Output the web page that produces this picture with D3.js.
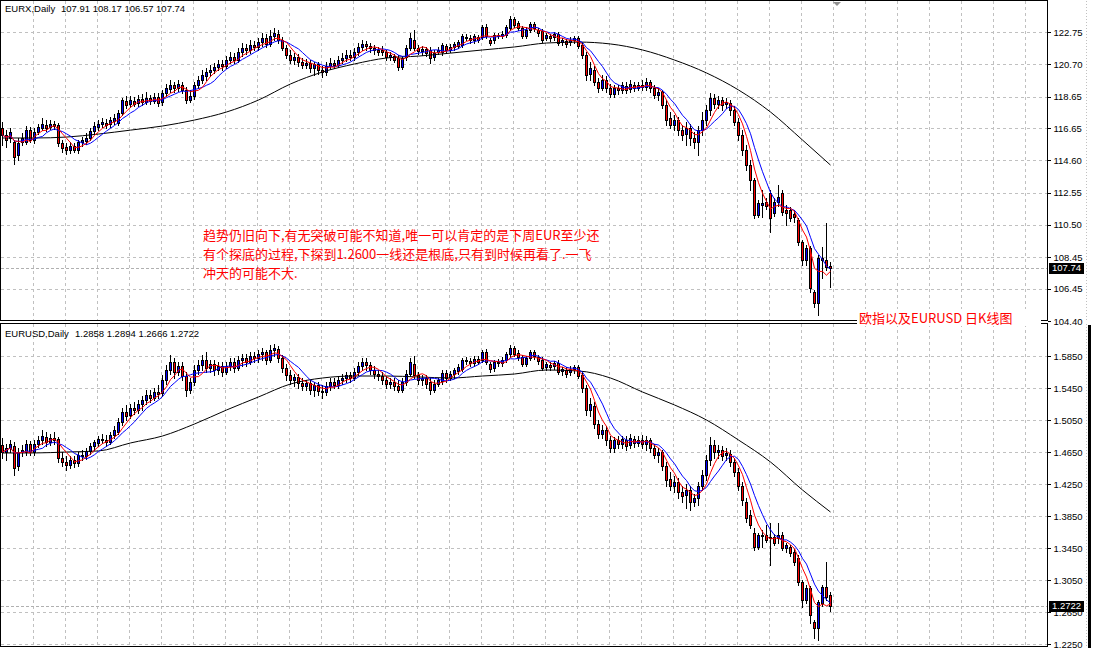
<!DOCTYPE html>
<html><head><meta charset="utf-8">
<script src="https://cdn.jsdelivr.net/npm/d3@7"></script>
<style>body{margin:0;background:#fff}svg{display:block}</style>
</head><body><svg id="c" width="1093" height="648"></svg>
<script>
// ---------- EURX daily (top window) ----------
const eurxOpen=[116.65,116.21,116.02,115.76,114.94,115.76,115.76,116.52,
115.89,116.40,116.65,116.84,116.71,116.91,116.84,115.70,
115.44,115.25,115.51,115.25,115.76,115.83,116.02,116.46,
116.71,116.91,116.97,116.91,117.10,116.97,117.60,118.37,
118.18,118.37,118.24,118.49,118.30,118.56,118.37,118.62,
118.30,118.87,119.13,119.38,119.19,119.38,119.07,118.43,
118.68,119.38,119.70,119.95,120.21,120.34,120.53,120.72,
120.59,120.97,121.16,120.97,121.48,121.73,121.61,121.92,
121.80,122.11,122.37,121.99,122.49,122.62,122.24,121.73,
121.29,120.97,121.16,120.84,120.65,120.78,120.46,120.72,
120.34,120.21,120.59,120.78,120.65,120.97,121.10,121.29,
121.16,121.48,121.80,121.99,121.86,121.73,121.61,121.61,
121.48,121.16,121.22,121.10,120.53,121.16,121.73,122.24,
121.73,121.54,121.67,121.61,121.16,121.48,121.48,121.86,
121.61,121.80,121.86,121.92,122.43,122.37,122.24,122.43,
122.43,123.07,122.24,122.24,122.56,122.49,122.56,123.00,
123.57,123.32,123.00,122.49,122.88,123.26,122.88,122.81,
122.37,122.49,122.43,122.62,122.11,122.18,122.11,122.24,
122.37,121.92,121.29,120.08,120.34,119.57,119.19,119.70,
119.19,118.81,119.19,119.07,119.32,119.13,119.38,119.19,
119.38,119.26,119.57,119.19,118.75,118.94,118.11,117.29,
116.84,117.16,116.52,116.27,116.65,116.02,115.76,116.52,
117.16,117.80,118.56,118.18,118.43,118.18,118.24,117.80,
117.03,116.21,115.25,114.30,113.35,111.13,111.76,111.95,
112.52,111.26,111.95,112.52,111.45,111.45,111.19,110.81,
109.41,108.27,109.03,106.24,105.54,108.40,108.27,107.91];
const eurxHigh=[117.03,116.52,116.65,115.89,116.02,116.33,116.78,116.71,
116.65,116.91,117.29,117.16,117.16,117.10,116.97,115.89,
115.70,115.76,115.70,115.89,116.08,116.33,116.65,117.03,
117.16,117.29,117.22,117.35,117.54,117.80,118.56,118.68,
118.68,118.62,118.75,118.81,118.94,118.75,118.87,118.87,
119.07,119.45,119.70,119.57,119.70,119.57,119.26,119.07,
119.57,119.95,120.34,120.46,120.65,120.78,120.97,120.97,
121.22,121.48,121.41,121.73,122.05,121.99,122.24,122.18,
122.37,122.68,122.62,122.88,123.00,122.88,122.43,121.92,
121.61,121.41,121.35,121.10,121.03,120.97,120.84,120.84,
120.59,120.84,121.10,120.97,121.22,121.41,121.61,121.61,
121.73,122.05,122.24,122.18,122.05,121.92,121.80,121.86,
121.61,121.48,121.35,121.29,121.22,121.92,122.68,122.88,
121.92,121.86,121.80,121.80,121.61,121.80,122.05,121.99,
121.99,122.11,122.24,122.62,122.62,122.56,122.62,122.56,
123.19,123.26,122.37,122.68,122.68,122.81,123.19,123.76,
123.70,123.45,123.13,123.07,123.38,123.38,123.00,122.94,
122.68,122.62,122.75,122.75,122.37,122.30,122.43,122.49,
122.49,122.11,121.48,120.84,120.59,119.83,120.02,119.95,
119.45,119.38,119.38,119.57,119.57,119.70,119.57,119.57,
119.70,119.83,119.70,119.38,119.19,119.07,118.43,117.67,
117.48,117.35,116.84,117.03,116.91,116.40,116.78,117.67,
118.11,118.87,118.81,118.68,118.62,118.56,118.43,118.05,
117.29,116.52,115.57,114.62,113.48,112.08,112.72,112.21,
112.72,112.21,113.03,112.72,111.76,111.64,111.45,110.94,
109.54,109.22,109.16,106.37,108.59,109.10,110.62,108.17];
const eurxLow=[115.57,115.44,115.76,114.37,114.62,115.57,115.63,115.76,
115.70,116.27,116.52,116.46,116.59,116.59,115.51,115.13,
115.00,115.06,115.13,115.06,115.51,115.63,115.89,116.33,
116.52,116.71,116.65,116.71,116.91,116.84,117.48,117.92,
117.99,118.05,118.05,118.11,118.18,118.18,118.24,118.05,
118.11,118.68,118.94,118.94,119.00,118.87,118.24,118.30,
118.49,119.19,119.51,119.70,119.95,120.15,120.34,120.34,
120.46,120.78,120.78,120.84,121.22,121.35,121.41,121.61,
121.61,121.86,121.80,121.86,122.24,122.05,121.61,121.10,
120.78,120.72,120.59,120.46,120.46,120.21,120.02,120.08,
119.89,120.02,120.40,120.46,120.53,120.78,120.91,120.97,
120.97,121.29,121.61,121.61,121.48,121.35,121.29,121.29,
120.97,120.97,120.84,120.34,120.40,120.97,121.61,121.61,
121.35,121.29,121.22,120.78,120.97,121.35,121.29,121.41,
121.48,121.61,121.73,121.80,122.24,122.05,122.05,122.11,
122.30,122.37,121.92,122.05,122.37,122.37,122.43,122.88,
123.07,122.88,122.37,122.37,122.75,122.81,122.49,122.11,
122.24,122.18,122.24,121.92,121.92,121.80,121.92,122.05,
121.73,121.10,119.70,119.70,119.38,118.94,119.07,118.94,
118.62,118.62,118.81,118.87,118.87,118.94,119.00,119.07,
119.07,119.07,118.94,118.56,118.43,117.92,116.84,116.65,
116.52,116.21,115.89,115.57,115.57,115.38,114.94,116.21,
116.84,117.48,117.92,117.92,117.80,117.92,117.48,116.84,
115.89,114.94,113.99,112.72,110.94,111.00,111.00,111.51,
110.05,111.06,111.70,111.13,110.49,110.75,110.68,109.22,
107.95,107.95,106.24,105.29,104.78,107.13,107.64,106.57];
const eurxClose=[116.21,115.89,116.40,114.81,115.70,116.02,116.52,115.89,
116.40,116.71,116.91,116.65,116.91,116.78,115.70,115.38,
115.25,115.51,115.25,115.76,115.89,116.02,116.46,116.78,
116.91,117.03,116.84,117.16,117.29,117.60,118.43,118.11,
118.43,118.18,118.49,118.30,118.56,118.37,118.62,118.24,
118.87,119.19,119.38,119.19,119.45,119.07,118.43,118.68,
119.38,119.70,120.02,120.21,120.34,120.53,120.72,120.59,
120.97,121.16,120.97,121.48,121.73,121.61,121.92,121.80,
122.11,122.37,121.99,122.49,122.68,122.24,121.73,121.29,
120.97,121.16,120.84,120.65,120.78,120.46,120.72,120.34,
120.21,120.59,120.78,120.65,120.97,121.10,121.29,121.16,
121.48,121.80,121.99,121.86,121.73,121.61,121.48,121.48,
121.16,121.29,120.97,120.53,121.10,121.73,122.37,121.73,
121.54,121.67,121.41,121.10,121.41,121.61,121.92,121.61,
121.80,121.99,122.11,122.49,122.37,122.24,122.49,122.24,
123.07,122.49,122.05,122.56,122.49,122.62,123.07,123.57,
123.19,123.00,122.49,122.88,123.26,123.00,122.68,122.24,
122.56,122.37,122.62,122.05,122.24,121.99,122.24,122.37,
121.86,121.29,120.02,120.46,119.57,119.19,119.70,119.19,
118.81,119.19,119.07,119.38,119.07,119.45,119.19,119.38,
119.26,119.57,119.19,118.75,118.94,118.11,117.16,116.84,
117.16,116.52,116.21,116.65,116.02,115.76,116.52,117.16,
117.80,118.56,118.18,118.43,118.11,118.30,117.80,117.03,
116.21,115.25,114.30,113.35,111.13,111.89,111.89,111.70,
110.94,111.95,112.27,111.32,111.26,110.94,111.00,109.41,
108.27,109.03,106.50,105.54,108.40,108.27,107.82,107.74];

// ---------- EURUSD daily (bottom window) ----------
const usdOpen=[1.4738,1.4650,1.4700,1.4725,1.4475,1.4650,1.4650,1.4750,
1.4650,1.4750,1.4800,1.4838,1.4775,1.4825,1.4813,1.4575,
1.4525,1.4488,1.4550,1.4513,1.4613,1.4600,1.4663,1.4725,
1.4763,1.4813,1.4800,1.4775,1.4863,1.4900,1.5025,1.5150,
1.5113,1.5200,1.5175,1.5250,1.5300,1.5363,1.5325,1.5400,
1.5388,1.5550,1.5675,1.5775,1.5650,1.5725,1.5600,1.5425,
1.5525,1.5675,1.5738,1.5800,1.5700,1.5750,1.5675,1.5725,
1.5650,1.5725,1.5775,1.5700,1.5800,1.5825,1.5775,1.5850,
1.5825,1.5875,1.5900,1.5800,1.5925,1.5938,1.5825,1.5700,
1.5613,1.5550,1.5588,1.5513,1.5475,1.5513,1.5425,1.5488,
1.5413,1.5400,1.5475,1.5525,1.5488,1.5550,1.5575,1.5613,
1.5575,1.5650,1.5725,1.5775,1.5738,1.5675,1.5625,1.5600,
1.5550,1.5500,1.5525,1.5475,1.5425,1.5525,1.5625,1.5750,
1.5613,1.5550,1.5575,1.5525,1.5425,1.5500,1.5538,1.5638,
1.5575,1.5625,1.5663,1.5688,1.5800,1.5788,1.5763,1.5813,
1.5800,1.5900,1.5750,1.5700,1.5775,1.5763,1.5800,1.5875,
1.5950,1.5888,1.5838,1.5750,1.5825,1.5900,1.5838,1.5800,
1.5713,1.5738,1.5725,1.5763,1.5663,1.5675,1.5650,1.5688,
1.5713,1.5613,1.5450,1.5175,1.5225,1.5000,1.4875,1.4925,
1.4800,1.4700,1.4800,1.4750,1.4800,1.4738,1.4813,1.4763,
1.4800,1.4750,1.4800,1.4700,1.4613,1.4650,1.4475,1.4313,
1.4225,1.4275,1.4150,1.4113,1.4175,1.4025,1.4075,1.4225,
1.4363,1.4550,1.4738,1.4650,1.4675,1.4613,1.4625,1.4525,
1.4400,1.4225,1.4025,1.3863,1.3638,1.3463,1.3600,1.3613,
1.3588,1.3588,1.3575,1.3613,1.3450,1.3463,1.3400,1.3325,
1.3025,1.2800,1.2950,1.2525,1.2450,1.2763,1.2963,1.2858];
const usdHigh=[1.4825,1.4750,1.4800,1.4775,1.4700,1.4738,1.4800,1.4788,
1.4800,1.4850,1.4925,1.4900,1.4875,1.4900,1.4838,1.4650,
1.4600,1.4600,1.4600,1.4650,1.4675,1.4700,1.4763,1.4800,
1.4850,1.4875,1.4863,1.4900,1.4975,1.5075,1.5200,1.5238,
1.5250,1.5275,1.5300,1.5350,1.5425,1.5425,1.5450,1.5488,
1.5613,1.5738,1.5863,1.5825,1.5775,1.5775,1.5650,1.5575,
1.5738,1.5800,1.5863,1.5900,1.5800,1.5800,1.5775,1.5775,
1.5775,1.5825,1.5825,1.5850,1.5875,1.5875,1.5900,1.5900,
1.5925,1.5950,1.5925,1.5988,1.6000,1.5975,1.5863,1.5750,
1.5675,1.5625,1.5625,1.5575,1.5550,1.5550,1.5525,1.5525,
1.5488,1.5525,1.5575,1.5575,1.5600,1.5625,1.5650,1.5650,
1.5700,1.5775,1.5825,1.5825,1.5775,1.5725,1.5675,1.5650,
1.5600,1.5575,1.5575,1.5550,1.5575,1.5675,1.5825,1.5850,
1.5650,1.5613,1.5613,1.5575,1.5550,1.5575,1.5675,1.5675,
1.5663,1.5700,1.5750,1.5825,1.5838,1.5825,1.5850,1.5850,
1.5925,1.5938,1.5775,1.5800,1.5813,1.5838,1.5900,1.5988,
1.5975,1.5925,1.5863,1.5850,1.5925,1.5925,1.5863,1.5838,
1.5775,1.5775,1.5788,1.5800,1.5713,1.5713,1.5725,1.5738,
1.5738,1.5650,1.5488,1.5325,1.5275,1.5050,1.4988,1.4975,
1.4850,1.4838,1.4850,1.4850,1.4850,1.4875,1.4850,1.4850,
1.4863,1.4850,1.4825,1.4750,1.4700,1.4675,1.4525,1.4400,
1.4350,1.4325,1.4225,1.4250,1.4225,1.4125,1.4275,1.4425,
1.4613,1.4838,1.4800,1.4738,1.4725,1.4700,1.4675,1.4575,
1.4450,1.4275,1.4075,1.3925,1.3700,1.3638,1.3675,1.3738,
1.3763,1.3625,1.3763,1.3650,1.3513,1.3488,1.3438,1.3363,
1.3050,1.2988,1.2975,1.2550,1.2800,1.2988,1.3275,1.2894];
const usdLow=[1.4575,1.4550,1.4650,1.4363,1.4425,1.4600,1.4613,1.4613,
1.4613,1.4713,1.4750,1.4725,1.4738,1.4750,1.4525,1.4475,
1.4425,1.4450,1.4463,1.4475,1.4550,1.4563,1.4625,1.4675,
1.4725,1.4763,1.4725,1.4750,1.4825,1.4875,1.4988,1.5050,
1.5075,1.5125,1.5138,1.5175,1.5250,1.5275,1.5300,1.5325,
1.5350,1.5500,1.5625,1.5575,1.5613,1.5550,1.5350,1.5388,
1.5488,1.5625,1.5675,1.5650,1.5650,1.5613,1.5625,1.5600,
1.5625,1.5675,1.5650,1.5675,1.5725,1.5725,1.5750,1.5775,
1.5775,1.5800,1.5750,1.5775,1.5850,1.5775,1.5650,1.5550,
1.5500,1.5475,1.5450,1.5425,1.5425,1.5375,1.5350,1.5363,
1.5325,1.5363,1.5425,1.5450,1.5450,1.5500,1.5525,1.5525,
1.5550,1.5613,1.5675,1.5675,1.5625,1.5575,1.5550,1.5500,
1.5450,1.5450,1.5425,1.5400,1.5400,1.5488,1.5600,1.5575,
1.5500,1.5488,1.5450,1.5375,1.5400,1.5475,1.5500,1.5525,
1.5550,1.5575,1.5625,1.5663,1.5750,1.5725,1.5725,1.5750,
1.5775,1.5750,1.5650,1.5663,1.5725,1.5725,1.5775,1.5838,
1.5850,1.5800,1.5725,1.5725,1.5800,1.5813,1.5750,1.5675,
1.5675,1.5675,1.5688,1.5625,1.5613,1.5588,1.5613,1.5638,
1.5575,1.5400,1.5113,1.5100,1.4950,1.4825,1.4825,1.4738,
1.4650,1.4650,1.4700,1.4700,1.4675,1.4700,1.4713,1.4725,
1.4700,1.4675,1.4650,1.4575,1.4525,1.4425,1.4225,1.4175,
1.4150,1.4075,1.4025,1.3950,1.3925,1.3975,1.3988,1.4175,
1.4300,1.4488,1.4575,1.4575,1.4550,1.4550,1.4475,1.4350,
1.4175,1.3988,1.3775,1.3700,1.3425,1.3438,1.3463,1.3525,
1.3238,1.3488,1.3513,1.3425,1.3400,1.3350,1.3238,1.2988,
1.2713,1.2763,1.2513,1.2325,1.2300,1.2725,1.2800,1.2666];
const usdClose=[1.4650,1.4700,1.4750,1.4450,1.4650,1.4675,1.4750,1.4650,
1.4750,1.4800,1.4850,1.4775,1.4825,1.4800,1.4575,1.4525,
1.4488,1.4550,1.4513,1.4613,1.4600,1.4663,1.4725,1.4775,
1.4813,1.4800,1.4775,1.4863,1.4925,1.5025,1.5150,1.5100,
1.5200,1.5175,1.5250,1.5300,1.5363,1.5325,1.5400,1.5375,
1.5550,1.5675,1.5775,1.5650,1.5725,1.5600,1.5425,1.5525,
1.5675,1.5738,1.5800,1.5700,1.5750,1.5675,1.5725,1.5650,
1.5725,1.5775,1.5700,1.5800,1.5825,1.5775,1.5850,1.5825,
1.5875,1.5900,1.5800,1.5925,1.5950,1.5825,1.5700,1.5613,
1.5550,1.5588,1.5513,1.5475,1.5513,1.5425,1.5488,1.5413,
1.5400,1.5475,1.5525,1.5488,1.5550,1.5575,1.5613,1.5575,
1.5650,1.5725,1.5775,1.5738,1.5675,1.5625,1.5600,1.5550,
1.5500,1.5525,1.5475,1.5425,1.5525,1.5625,1.5775,1.5613,
1.5550,1.5575,1.5500,1.5425,1.5500,1.5550,1.5638,1.5575,
1.5625,1.5675,1.5713,1.5800,1.5788,1.5763,1.5813,1.5775,
1.5900,1.5775,1.5688,1.5775,1.5763,1.5800,1.5875,1.5950,
1.5875,1.5838,1.5750,1.5825,1.5900,1.5850,1.5788,1.5700,
1.5750,1.5713,1.5763,1.5650,1.5688,1.5625,1.5688,1.5713,
1.5600,1.5450,1.5175,1.5250,1.5000,1.4875,1.4925,1.4800,
1.4700,1.4800,1.4750,1.4813,1.4725,1.4825,1.4763,1.4800,
1.4750,1.4800,1.4700,1.4613,1.4650,1.4475,1.4300,1.4225,
1.4275,1.4150,1.4100,1.4175,1.4025,1.4075,1.4225,1.4363,
1.4550,1.4738,1.4650,1.4675,1.4600,1.4638,1.4525,1.4400,
1.4225,1.4050,1.3825,1.3738,1.3463,1.3613,1.3613,1.3550,
1.3575,1.3513,1.3613,1.3450,1.3488,1.3388,1.3275,1.3025,
1.2800,1.2950,1.2613,1.2450,1.2775,1.2963,1.2838,1.2722];

// long moving average (black), read at every 8th bar
const maLongIdx=[0,8,16,24,32,40,48,56,64,72,80,88,96,104,112,120,128,136,144,152,160,168,176,184,192,200,207];
const eurxMaLong=[116.02,116.02,116.08,116.27,116.52,116.78,117.16,117.67,118.43,119.45,120.21,120.72,121.10,121.22,121.41,121.61,121.80,122.05,122.11,121.99,121.61,120.97,120.15,119.07,117.67,115.89,114.30];
const usdMaLong=[1.4638,1.4638,1.4650,1.4663,1.4763,1.4850,1.5000,1.5175,1.5338,1.5500,1.5575,1.5600,1.5600,1.5588,1.5575,1.5600,1.5625,1.5675,1.5663,1.5575,1.5400,1.5238,1.5050,1.4800,1.4525,1.4175,1.3900];

// price-axis ticks
const eurxTicks=[122.75,120.70,118.65,116.65,114.60,112.55,110.50,108.45,106.45,104.40];
const usdTicks=[1.5850,1.5450,1.5050,1.4650,1.4250,1.3850,1.3450,1.3050,1.2650,1.2250];

const noteLines=["趋势仍旧向下,有无突破可能不知道,唯一可以肯定的是下周EUR至少还",
"有个探底的过程,下探到1.2600一线还是根底,只有到时候再看了.一飞",
"冲天的可能不大."];
const caption="欧指以及EURUSD 日K线图";

// ---------------------------------------------------------------
const W=1093,H=648,AX=1047;
const FONT="'Liberation Sans',Arial,sans-serif";
const CJK="'Noto Sans CJK SC','Noto Sans CJK JP',sans-serif";
const svg=d3.select('#c');
svg.append('rect').attr('width',W).attr('height',H).attr('fill','#fff');
const N=eurxClose.length;
const x=d3.scaleLinear().domain([0,N-1]).range([2,830]);

function sma(a,n){return a.map((_,i)=>d3.mean(a.slice(Math.max(0,i-n+1),i+1)));}

const panels=[
 {id:'p0',name:'EURX,Daily',o:eurxOpen,h:eurxHigh,l:eurxLow,c:eurxClose,ma:eurxMaLong,ticks:eurxTicks,dec:2,
  top:1,bot:321,y:d3.scaleLinear().domain([104.40,122.75]).range([321,32]),hdrY:12,borderTop:0.5,borderBot:320.5},
 {id:'p1',name:'EURUSD,Daily',o:usdOpen,h:usdHigh,l:usdLow,c:usdClose,ma:usdMaLong,ticks:usdTicks,dec:4,
  top:324,bot:646,y:d3.scaleLinear().domain([1.2250,1.5850]).range([644,356]),hdrY:337,borderTop:323.5,borderBot:646.5}
];

const defs=svg.append('defs');
panels.forEach(p=>{
  defs.append('clipPath').attr('id','clip'+p.id).append('rect')
    .attr('x',1).attr('y',p.top).attr('width',AX-1).attr('height',p.bot-p.top);
  const g=svg.append('g').attr('clip-path',`url(#clip${p.id})`);
  // vertical grid
  for(let k=1;32*k+1<AX;k++){
    g.append('line').attr('x1',32*k+1.5).attr('x2',32*k+1.5).attr('y1',p.top).attr('y2',p.bot)
     .attr('stroke','#c0c0c0').attr('stroke-dasharray','3,3').attr('shape-rendering','crispEdges');
  }
  // horizontal grid
  p.ticks.forEach(t=>{
    const yy=Math.round(p.y(t))+0.5;
    g.append('line').attr('x1',1).attr('x2',AX).attr('y1',yy).attr('y2',yy)
     .attr('stroke','#c0c0c0').attr('stroke-dasharray','3,3').attr('shape-rendering','crispEdges');
  });
  // bid line
  const last=p.c[N-1];
  const yb=Math.round(p.y(last))+0.5;
  g.append('line').attr('x1',1).attr('x2',AX).attr('y1',yb).attr('y2',yb)
   .attr('stroke','#b0b0b0').attr('stroke-dasharray','3,2').attr('shape-rendering','crispEdges');
  // candles
  const cg=g.append('g').attr('shape-rendering','crispEdges');
  for(let i=0;i<N;i++){
    const cx=Math.round(x(i));
    const yo=Math.round(p.y(p.o[i])),yc=Math.round(p.y(p.c[i]));
    const yh=Math.round(p.y(p.h[i])),yl=Math.round(p.y(p.l[i]));
    cg.append('rect').attr('x',cx).attr('y',yh).attr('width',1).attr('height',Math.max(1,yl-yh+1)).attr('fill','#000');
    const t=Math.min(yo,yc),b=Math.max(yo,yc);
    cg.append('rect').attr('x',cx-1).attr('y',t).attr('width',3).attr('height',b-t+1).attr('fill','#000');
    if(b-t>=2){
      cg.append('rect').attr('x',cx).attr('y',t+1).attr('width',1).attr('height',b-t-1)
        .attr('fill',p.c[i]>=p.o[i]?'#0000ff':'#ff0000');
    }
  }
  // moving averages
  const line=d3.line().x(d=>d[0]).y(d=>d[1]);
  const fast=sma(p.c,5).map((v,i)=>[x(i)+0.5,p.y(v)]);
  const mid=sma(p.c,8).map((v,i)=>[x(i)+0.5,p.y(v)]);
  const slow=maLongIdx.map((ix,k)=>[x(ix)+0.5,p.y(p.ma[k])]);
  g.append('path').attr('d',d3.line().curve(d3.curveMonotoneX).x(d=>d[0]).y(d=>d[1])(slow))
   .attr('fill','none').attr('stroke','#000').attr('stroke-width',1);
  g.append('path').attr('d',line(mid)).attr('fill','none').attr('stroke','#0000ff').attr('stroke-width',1);
  g.append('path').attr('d',line(fast)).attr('fill','none').attr('stroke','#ff0000').attr('stroke-width',1);

  // frame
  const fr=svg.append('g').attr('shape-rendering','crispEdges').attr('stroke','#000');
  fr.append('line').attr('x1',0).attr('x2',AX+1).attr('y1',p.borderTop).attr('y2',p.borderTop);
  fr.append('line').attr('x1',0).attr('x2',AX+1).attr('y1',p.borderBot).attr('y2',p.borderBot);
  fr.append('line').attr('x1',0.5).attr('x2',0.5).attr('y1',p.borderTop).attr('y2',p.borderBot);
  fr.append('line').attr('x1',AX+0.5).attr('x2',AX+0.5).attr('y1',p.borderTop).attr('y2',p.borderBot);
  // right dotted edge
  svg.append('line').attr('x1',1086.5).attr('x2',1086.5).attr('y1',p.borderTop).attr('y2',p.borderBot)
    .attr('stroke','#c0c0c0').attr('stroke-dasharray','1,2').attr('shape-rendering','crispEdges');

  // price axis
  const ax=d3.axisRight(p.y).tickValues(p.ticks).tickSize(3).tickPadding(3).tickFormat(d=>d.toFixed(p.dec));
  const ag=svg.append('g').attr('transform',`translate(${AX+0.5},0)`).call(ax);
  ag.select('.domain').remove();
  ag.selectAll('line').attr('stroke','#000').attr('shape-rendering','crispEdges');
  ag.selectAll('text').attr('font-family',FONT).attr('font-size',9.5).attr('fill','#000');
  // last price box
  const yl=Math.round(p.y(last));
  svg.append('rect').attr('x',1049).attr('y',yl-5).attr('width',35).attr('height',11).attr('fill','#000');
  svg.append('text').attr('x',1052).attr('y',yl).attr('dy','0.35em').attr('fill','#fff')
    .attr('font-family',FONT).attr('font-size',9.5).text(last.toFixed(p.dec));

  // header
  svg.append('text').attr('x',5).attr('y',p.hdrY).attr('font-family',FONT).attr('font-size',9.5).attr('fill','#000').text(p.name);
  const lastBar=[p.o[N-1],p.h[N-1],p.l[N-1],p.c[N-1]].map(v=>v.toFixed(p.dec)).join(' ');
  svg.append('text').attr('x',p.id==='p0'?61:75).attr('y',p.hdrY).attr('font-family',FONT).attr('font-size',9.5).attr('fill','#000').text(lastBar);
});

// right black bar of lower window
svg.append('rect').attr('x',1088).attr('y',325).attr('width',3).attr('height',323).attr('fill','#000');
// chart-shift marker
svg.append('path').attr('d','M833,2 L841,2 L837,6 Z').attr('fill','#909090');

// annotation
const note=svg.append('text').attr('font-family',CJK).attr('font-size',13).attr('fill','#ff0000');
noteLines.forEach((s,k)=>note.append('tspan').attr('x',203).attr('y',240+k*19).text(s));
svg.append('rect').attr('x',857).attr('y',309).attr('width',184).attr('height',17).attr('fill','#fff');
svg.append('text').attr('x',859).attr('y',323).attr('font-family',CJK).attr('font-size',13).attr('fill','#ff0000').text(caption);
</script></body></html>
